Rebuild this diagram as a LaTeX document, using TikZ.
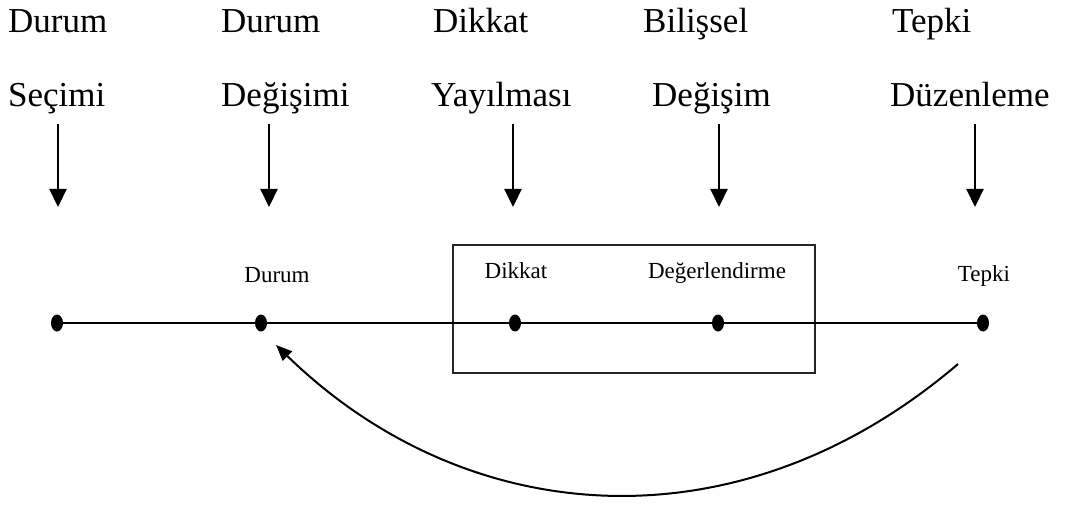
\documentclass[tikz,border=0pt]{standalone}
\usepackage{fontspec}
\setmainfont{Liberation Serif}
\usetikzlibrary{arrows.meta,shapes.geometric}
\begin{document}
\begin{tikzpicture}[x=1pt,y=-1pt,
  toplbl/.style={anchor=base west,inner sep=0pt,font=\fontsize{35}{40}\selectfont},
  smalllbl/.style={anchor=base,inner sep=0pt,font=\fontsize{23}{27}\selectfont},
  dot/.style={ellipse,fill=black,minimum width=12pt,minimum height=17pt,inner sep=0pt},
  downarrow/.style={line width=2.2pt,-{Triangle[length=18pt,width=17pt]}},
  tline/.style={line width=2pt},
  boxline/.style={line width=2pt,draw=black!85}]
\useasboundingbox (0,0) rectangle (1065,505);
% top labels
\node[toplbl] (l1a) at (8,33) {Durum};
\node[toplbl] (l1b) at (8,107) {Seçimi};
\node[toplbl] (l2a) at (221,33) {Durum};
\node[toplbl] (l2b) at (221,107) {Değişimi};
\node[toplbl] (l3a) at (433,33) {Dikkat};
\node[toplbl] (l3b) at (431,107) {Yayılması};
\node[toplbl] (l4a) at (643,33) {Bilişsel};
\node[toplbl] (l4b) at (652,107) {Değişim};
\node[toplbl] (l5a) at (892,33) {Tepki};
\node[toplbl] (l5b) at (890,107) {Düzenleme};
% arrow endpoints
\foreach \i/\x in {1/58,2/269,3/513,4/719,5/975}{
  \coordinate (as\i) at (\x,124);
  \coordinate (ae\i) at (\x,207);
  \draw[downarrow] (as\i) -- (ae\i);
}
% box
\node[boxline,minimum width=362pt,minimum height=128pt,inner sep=0pt] (box) at (634,309) {};
% dots
\node[dot] (d1) at (57,323) {};
\node[dot] (d2) at (261,323) {};
\node[dot] (d3) at (515,323) {};
\node[dot] (d4) at (718,323) {};
\node[dot] (d5) at (983,323) {};
\draw[tline] (d1) -- (d2) -- (d3) -- (d4) -- (d5);
% small labels
\node[smalllbl] (s2) at (277,282) {Durum};
\node[smalllbl] (s3) at (516,278) {Dikkat};
\node[smalllbl] (s4) at (717,278) {Değerlendirme};
\node[smalllbl] (s5) at (984,281) {Tepki};
% feedback curve
\coordinate (cs) at (958,364);
\coordinate (ce) at (276,345);
\draw[line width=2pt,-{Triangle[length=16pt,width=13pt]}] (cs) .. controls (738,552) and (466,530) .. (ce);
\end{tikzpicture}
\end{document}
